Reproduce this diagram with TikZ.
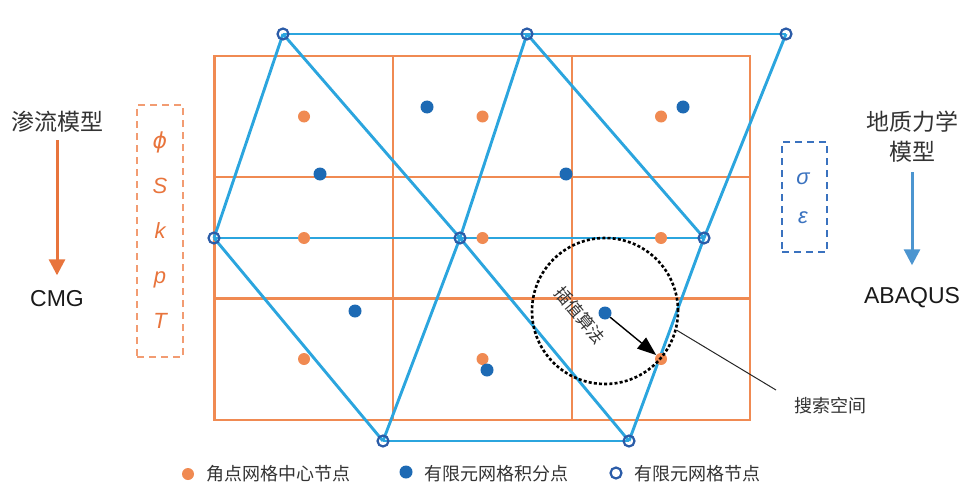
\documentclass[tikz,border=0pt]{standalone}
\usepackage{fontspec}
\setmainfont{Liberation Sans}
\newfontfamily\cjk{Noto Sans CJK SC}
\newfontfamily\greekfont{DejaVu Sans}
\usetikzlibrary{arrows.meta,backgrounds}
\definecolor{gridorange}{HTML}{F08A52}
\definecolor{meshblue}{HTML}{2BA5DE}
\definecolor{dotblue}{HTML}{1D6AB4}
\definecolor{ringblue}{HTML}{2B5CA8}
\definecolor{flowarrow}{HTML}{E8743C}
\definecolor{geoarrow}{HTML}{4C95D0}
\definecolor{boxblue}{HTML}{3A72BF}
\definecolor{boxorange}{HTML}{F29C72}
\definecolor{labelgray}{HTML}{333333}

\begin{document}
\begin{tikzpicture}[
  x=1pt, y=-1pt,
  >=Latex,
  cellline/.style={draw=gridorange, line width=2.9pt},
  meshline/.style={draw=meshblue, line width=2.9pt},
  cellpt/.style={circle, fill=gridorange, inner sep=0pt, minimum size=12pt},
  gausspt/.style={circle, fill=dotblue, inner sep=0pt, minimum size=13pt},
  meshpt/.style={circle, draw=ringblue, line width=2.2pt, inner sep=0pt, minimum size=11pt},
  title/.style={font=\cjk\fontsize{23}{30}\selectfont, text=labelgray, align=center},
  solver/.style={font=\fontsize{23}{27}\selectfont, text=black!90},
  var/.style={font=\itshape\fontsize{22}{26}\selectfont, anchor=base},
  varbox/.style={dash pattern=on 7pt off 5pt, line width=1.7pt, inner sep=0pt},
  legend/.style={font=\cjk\fontsize{18}{22}\selectfont, text=labelgray, anchor=west},
  modelarr/.style={-{Triangle[length=16pt, width=16pt]}, line width=3pt},
  interp/.style={-{Triangle[length=19pt, width=14pt]}, line width=1.4pt, draw=black}
]
\useasboundingbox (0,0) rectangle (965,484);

\node[meshpt] (t1) at (283,34) {};
\node[meshpt] (t2) at (527,34) {};
\node[meshpt] (t3) at (786,34) {};
\node[meshpt] (m1) at (214,238) {};
\node[meshpt] (m2) at (460,238) {};
\node[meshpt] (m3) at (704,238) {};
\node[meshpt] (b1) at (383,441) {};
\node[meshpt] (b2) at (629,441) {};

\begin{pgfonlayer}{background}
\draw[cellline] (214.5,56) rectangle (750,420);
\foreach \x in {393,572}
  \draw[cellline] (\x,56) -- (\x,420);
\foreach \y in {177,298.5}
  \draw[cellline] (214.5,\y) -- (750,\y);
\foreach \a/\b in {t1/t3, m1/m3, b1/b2, t1/m1, t1/m2, t2/m2, t2/m3,
    t3/m3, m1/b1, m2/b1, m2/b2, m3/b2}
  \draw[meshline] (\a.center) -- (\b.center);
\end{pgfonlayer}

\foreach \x/\y/\n in {304/116.5/c1, 482.5/116.5/c2, 661/116.5/c3,
    304/238/c4, 482.5/238/c5, 661/238/c6,
    304/359/c7, 482.5/359/c8, 661/359/c9}
  \node[cellpt] (\n) at (\x,\y) {};
\foreach \x/\y/\n in {427/107/g1, 683/107/g2, 320/174/g3, 566/174/g4,
    355/311/g5, 605/313/g6, 487/370/g7}
  \node[gausspt] (\n) at (\x,\y) {};

\node[draw, circle, dash pattern=on 3pt off 2.2pt, line width=2.6pt,
  minimum size=146pt, inner sep=0pt] (space) at (605,311) {};
\node[font=\cjk\fontsize{17}{20}\selectfont, rotate=-50, text=labelgray]
  (algo) at (580,315) {插值算法};
\draw[interp] (g6) -- (c9);
\node[legend, anchor=center] (search) at (830,406) {搜索空间};
\coordinate (searchend) at (776,390);
\draw[line width=1pt, black!85] (space.-15) -- (searchend);

\node[title] (flow) at (57,122) {渗流模型};
\node[solver] (cmg) at (57,299) {CMG};
\draw[modelarr, draw=flowarrow, fill=flowarrow, shorten <=4pt, shorten >=12pt]
  (flow.south) -- (cmg.north);
\node[varbox, draw=boxorange, minimum width=46pt, minimum height=252pt]
  (flowvars) at (160,231) {};
\node[var, text=flowarrow, font=\greekfont\itshape\fontsize{22}{26}\selectfont]
  (fv0) at (160,148) {ϕ};
\foreach \v [count=\i] in {S,k,p,T}
  \node[var, text=flowarrow] (fv\i) at (160,148+45*\i) {\v};

\node[title] (geo) at (912,137) {地质力学\\模型};
\node[solver] (abaqus) at (912,298) {ABAQUS};
\draw[modelarr, draw=geoarrow, fill=geoarrow, shorten <=6pt, shorten >=19pt]
  (geo.south) -- (abaqus.north);
\node[varbox, draw=boxblue, minimum width=45pt, minimum height=110pt]
  (geovars) at (804.5,197) {};
\node[var, text=boxblue] (sigma) at (803,184) {σ};
\node[var, text=boxblue] (eps) at (803,223) {ε};

\node[cellpt] (keycell) at (188,474) {};
\node[legend] (keycelltext) at (203,474) {角点网格中心节点};
\node[gausspt] (keygauss) at (406,472) {};
\node[legend] (keygausstext) at (421,474) {有限元网格积分点};
\node[meshpt] (keymesh) at (616,473) {};
\node[legend] (keymeshtext) at (631,474) {有限元网格节点};
\end{tikzpicture}
\end{document}
